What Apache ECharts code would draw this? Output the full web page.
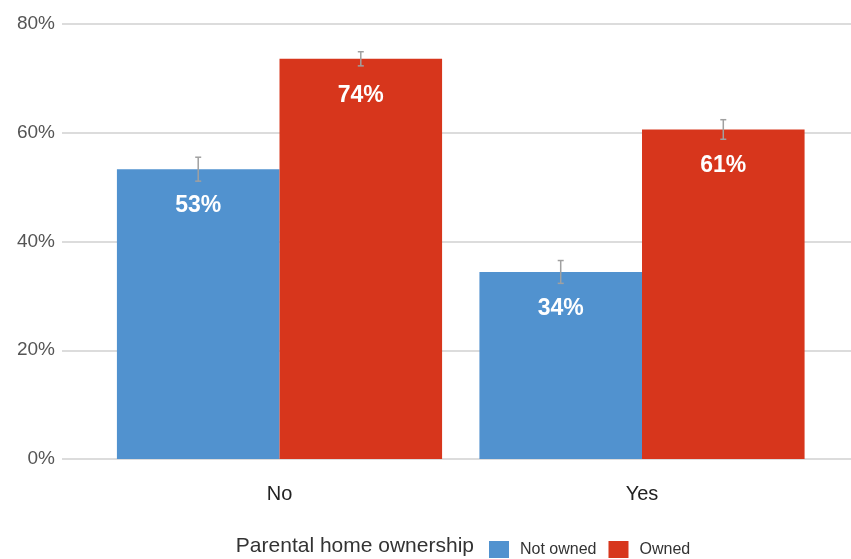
<!DOCTYPE html>
<html>
<head>
<meta charset="utf-8">
<script src="https://cdn.jsdelivr.net/npm/echarts@6/dist/echarts.min.js"></script>
<style>html,body{margin:0;padding:0;background:#fff}#c{width:851px;height:559px}</style>
</head>
<body>
<div id="c"></div>
<script>
var categories = ['No', 'Yes'];
var seriesNames = ['Not owned', 'Owned'];
var notOwned = [53.3, 34.4];
var owned = [73.6, 60.6];
var notOwnedErr = [2.2, 2.1];
var ownedErr = [1.3, 1.8];
var yTicks = [0, 20, 40, 60, 80];
var legendTitle = 'Parental home ownership';

var colors = ['#5192cf', '#d7361c'];
var catGap = 0.103;
var FONT = 'Liberation Sans, Arial';

function errSeries(idx, vals, errs) {
  return {
    type: 'custom', xAxisIndex: 1, yAxisIndex: 1, z: 5,
    data: vals.map(function (v, i) { return [i, v - errs[i], v + errs[i]]; }),
    renderItem: function (params, api) {
      var c = api.value(0);
      var lo = api.coord([c, api.value(1)]);
      var hi = api.coord([c, api.value(2)]);
      var band = api.size([1, 0])[0];
      var bw = band * (1 - catGap) / 2;
      var x = lo[0] + (idx === 0 ? -bw / 2 : bw / 2);
      var style = { stroke: '#a0a0a0', lineWidth: 1.5 };
      return {
        type: 'group',
        children: [
          { type: 'line', shape: { x1: x, y1: hi[1], x2: x, y2: lo[1] }, style: style },
          { type: 'line', shape: { x1: x - 3, y1: hi[1], x2: x + 3, y2: hi[1] }, style: style },
          { type: 'line', shape: { x1: x - 3, y1: lo[1], x2: x + 3, y2: lo[1] }, style: style }
        ]
      };
    }
  };
}

var labelCfg = {
  show: true, position: 'insideTop', distance: 25,
  color: '#fff', fontSize: 23, fontWeight: 'bold', fontFamily: FONT,
  formatter: function (p) { return Math.round(p.value) + '%'; }
};

var chart = echarts.init(document.getElementById('c'), null, { renderer: 'canvas' });
chart.setOption({
  animation: false,
  backgroundColor: '#fff',
  textStyle: { fontFamily: FONT },
  grid: [
    { left: 62, right: 0, top: 24, bottom: 100 },
    { left: 98.25, right: 27.75, top: 24, bottom: 100 }
  ],
  xAxis: [
    { gridIndex: 0, type: 'value', show: false, min: 0, max: 1 },
    { gridIndex: 1, type: 'category', data: categories,
      axisLine: { show: false }, axisTick: { show: false },
      axisLabel: { color: '#222', fontSize: 20, margin: 25, fontFamily: FONT } }
  ],
  yAxis: [
    { gridIndex: 0, type: 'value', min: yTicks[0], max: yTicks[yTicks.length - 1], interval: 20,
      axisLine: { show: false }, axisTick: { show: false },
      axisLabel: { color: '#555', fontSize: 19, margin: 7, formatter: '{value}%', fontFamily: FONT },
      splitLine: { lineStyle: { color: '#d0d0d0', width: 1.5 } } },
    { gridIndex: 1, type: 'value', min: yTicks[0], max: yTicks[yTicks.length - 1], interval: 20,
      show: false, splitLine: { show: false } }
  ],
  legend: {
    data: seriesNames, left: 484, top: 536, itemWidth: 20, itemHeight: 17, itemGap: 12,
    icon: 'rect',
    textStyle: { fontSize: 16, color: '#333', padding: [0, 0, 0, 6], fontFamily: FONT }
  },
  graphic: [
    { type: 'text', right: 851 - 474, top: 536,
      style: { text: legendTitle, fontSize: 21, fill: '#333', fontFamily: FONT } }
  ],
  series: [
    { name: seriesNames[0], type: 'bar', xAxisIndex: 1, yAxisIndex: 1, data: notOwned,
      itemStyle: { color: colors[0] }, barGap: '0%', barCategoryGap: (catGap * 100) + '%', label: labelCfg },
    { name: seriesNames[1], type: 'bar', xAxisIndex: 1, yAxisIndex: 1, data: owned,
      itemStyle: { color: colors[1] }, barGap: '0%', barCategoryGap: (catGap * 100) + '%', label: labelCfg },
    errSeries(0, notOwned, notOwnedErr),
    errSeries(1, owned, ownedErr)
  ]
});
</script>
</body>
</html>
